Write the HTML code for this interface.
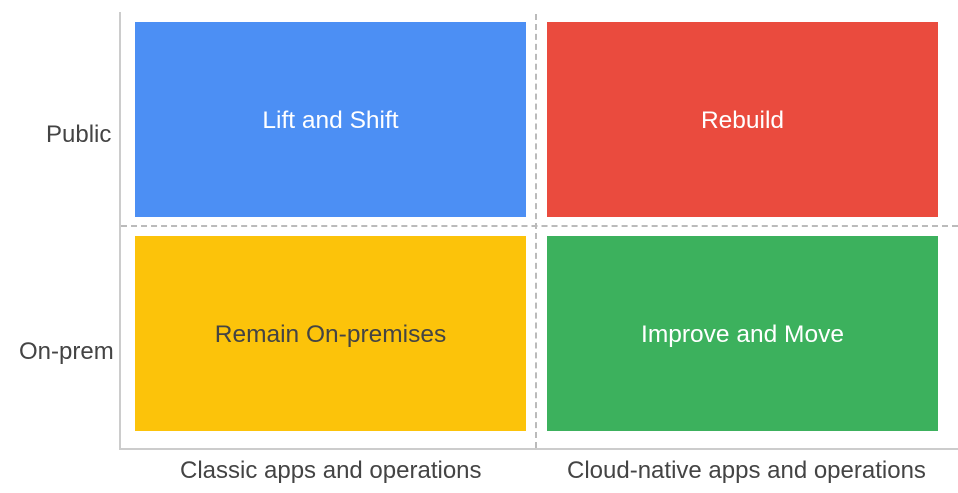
<!DOCTYPE html>
<html><head><style>
body{margin:0;width:958px;height:493px;background:#fff;position:relative;overflow:hidden;font-family:"Liberation Sans",sans-serif}
.a{position:absolute}
.b{position:absolute;display:flex;align-items:center;justify-content:center;font-size:24.5px;color:#fff;padding-top:3px;box-sizing:border-box}
.t{position:absolute;font-size:24px;color:#444}
</style></head><body>
<div class="a" style="left:119px;top:12px;width:2px;height:438px;background:#ccc"></div>
<div class="a" style="left:119px;top:448px;width:839px;height:2px;background:#ccc"></div>
<div class="a" style="left:121px;top:225px;width:837px;border-top:2px dashed #bbb"></div>
<div class="a" style="left:535px;top:14px;height:434px;border-left:2px dashed #bbb"></div>
<div class="b" style="left:135px;top:22px;width:391px;height:195px;background:#4c8ff4">Lift and Shift</div>
<div class="b" style="left:547px;top:22px;width:391px;height:195px;background:#ea4b3e">Rebuild</div>
<div class="b" style="left:135px;top:236px;width:391px;height:195px;background:#fcc30a;color:#444">Remain On-premises</div>
<div class="b" style="left:547px;top:236px;width:391px;height:195px;background:#3cb15d">Improve and Move</div>
<div class="t" style="left:46px;top:121px">Public</div>
<div class="t" style="left:19px;top:338px">On-prem</div>
<div class="t" style="left:180px;top:457px">Classic apps and operations</div>
<div class="t" style="left:567px;top:457px">Cloud-native apps and operations</div>
</body></html>
